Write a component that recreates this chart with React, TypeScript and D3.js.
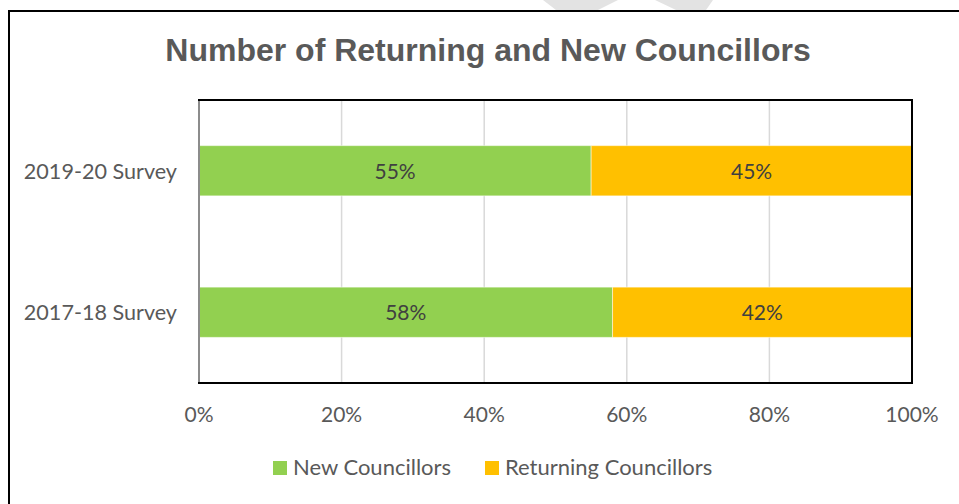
import { useEffect, useRef } from 'react';
import * as d3 from 'd3';

const categories = ['2019-20 Survey', '2017-18 Survey'];
const newCouncillors = [55, 58];
const returningCouncillors = [45, 42];
const xTicks = [0, 20, 40, 60, 80, 100];
const seriesNames = ['New Councillors', 'Returning Councillors'];

const colors = ['#92D050', '#FFC000'];
const textFont = "Lato, 'Open Sans', sans-serif";

export default function App() {
  const svgRef = useRef<SVGSVGElement | null>(null);

  useEffect(() => {
    if (!svgRef.current) return;
    const width = 959;
    const height = 504;
    const plot = { left: 199, right: 912, top: 100, bottom: 383 };

    const svg = d3.select(svgRef.current);
    svg.selectAll('*').remove();
    svg.attr('width', width).attr('height', height);

    svg.append('rect').attr('width', width).attr('height', height).attr('fill', '#fff');

    // faint watermark above the frame
    svg.append('path')
      .attr('d', 'M543,0 L618,0 L598,10 L556,10 Z M655,0 L713,0 L706,10 L676,10 Z')
      .attr('fill', '#e3e3e3');

    // outer chart border (runs off the right/bottom edge)
    svg.append('rect')
      .attr('x', 9).attr('y', 11)
      .attr('width', width + 20).attr('height', height + 20)
      .attr('fill', 'none').attr('stroke', '#000').attr('stroke-width', 2);

    const x = d3.scaleLinear().domain([0, 100]).range([plot.left, plot.right]);
    const y = d3.scaleBand<string>()
      .domain(categories)
      .range([plot.top, plot.bottom])
      .paddingInner(0.645)
      .paddingOuter(0.3225);

    // title
    svg.append('text')
      .attr('x', 488).attr('y', 61)
      .attr('text-anchor', 'middle')
      .attr('font-family', "'Liberation Sans', Arial, sans-serif")
      .attr('font-weight', 'bold')
      .attr('font-size', 32)
      .attr('fill', '#595959')
      .text('Number of Returning and New Councillors');

    // gridlines
    svg.append('g')
      .selectAll('line')
      .data(xTicks.slice(1, -1))
      .join('line')
      .attr('x1', d => x(d)).attr('x2', d => x(d))
      .attr('y1', plot.top).attr('y2', plot.bottom)
      .attr('stroke', '#d9d9d9').attr('stroke-width', 1.5);

    // stacked bars
    const rows = categories.map((c, i) => ({ c, a: newCouncillors[i], b: returningCouncillors[i] }));
    const segs = rows.flatMap(r => [
      { c: r.c, x0: 0, x1: r.a, v: r.a, k: 0 },
      { c: r.c, x0: r.a, x1: r.a + r.b, v: r.b, k: 1 },
    ]);

    svg.append('g')
      .selectAll('rect')
      .data(segs)
      .join('rect')
      .attr('x', d => x(d.x0))
      .attr('y', d => y(d.c)!)
      .attr('width', d => x(d.x1) - x(d.x0))
      .attr('height', y.bandwidth())
      .attr('fill', d => colors[d.k])
      .attr('stroke', '#fff')
      .attr('stroke-opacity', 0.5)
      .attr('stroke-width', 1);

    svg.append('g')
      .selectAll('text')
      .data(segs)
      .join('text')
      .attr('x', d => (x(d.x0) + x(d.x1)) / 2)
      .attr('y', d => y(d.c)! + y.bandwidth() / 2 + 8)
      .attr('text-anchor', 'middle')
      .attr('font-family', textFont)
      .attr('font-size', 21)
      .attr('fill', '#404040')
      .text(d => `${d.v}%`);

    // plot frame
    svg.append('rect')
      .attr('x', plot.left).attr('y', plot.top)
      .attr('width', plot.right - plot.left).attr('height', plot.bottom - plot.top)
      .attr('fill', 'none').attr('stroke', '#000').attr('stroke-width', 2);
    svg.append('line')
      .attr('x1', plot.left).attr('x2', plot.left)
      .attr('y1', plot.top + 1).attr('y2', plot.bottom - 1)
      .attr('stroke', '#8c8c8c').attr('stroke-width', 2);

    // x tick labels
    svg.append('g')
      .selectAll('text')
      .data(xTicks)
      .join('text')
      .attr('x', d => x(d))
      .attr('y', 422)
      .attr('text-anchor', 'middle')
      .attr('font-family', textFont)
      .attr('font-size', 21)
      .attr('fill', '#595959')
      .text(d => `${d}%`);

    // category labels
    svg.append('g')
      .selectAll('text')
      .data(categories)
      .join('text')
      .attr('x', 177)
      .attr('y', d => y(d)! + y.bandwidth() / 2 + 8)
      .attr('text-anchor', 'end')
      .attr('font-family', textFont)
      .attr('font-size', 21.6)
      .attr('fill', '#595959')
      .text(d => d);

    // legend
    const legendX = [273, 485];
    const lg = svg.append('g')
      .selectAll('g')
      .data(seriesNames)
      .join('g')
      .attr('transform', (d, i) => `translate(${legendX[i]},461)`);
    lg.append('rect')
      .attr('width', 14).attr('height', 14)
      .attr('fill', (d, i) => colors[i]);
    lg.append('text')
      .attr('x', 20).attr('y', 14)
      .attr('font-family', textFont)
      .attr('font-size', 22)
      .attr('fill', '#595959')
      .text(d => d);
  }, []);

  return (
    <div style={{ position: 'absolute', left: 0, top: 0 }}>
      <svg ref={svgRef} style={{ display: 'block' }} />
    </div>
  );
}
